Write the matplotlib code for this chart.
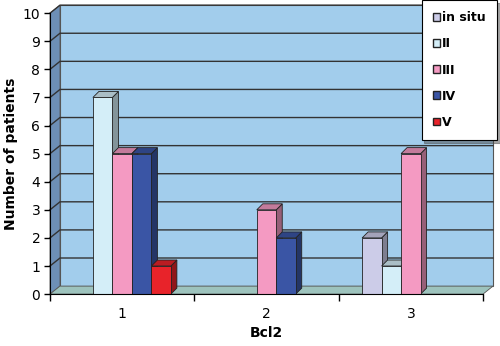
import numpy as np
import matplotlib
matplotlib.use("Agg")
import matplotlib.pyplot as plt
from matplotlib.patches import Polygon, Rectangle
from matplotlib.colors import to_rgb

# --- data ---
categories = ["1", "2", "3"]
series_names = ["in situ", "II", "III", "IV", "V"]
in_situ = [0, 0, 2]
stage_ii = [7, 0, 1]
stage_iii = [5, 3, 5]
stage_iv = [5, 2, 0]
stage_v = [1, 0, 0]
values = [in_situ, stage_ii, stage_iii, stage_iv, stage_v]
colors = ["#cccce8", "#d4eef8", "#f49ac2", "#3a55a5", "#e8232a"]
y_ticks = list(range(0, 11))

WALL = (10, 8)   # pixel depth of the back wall
BAR = (6, 6)     # pixel depth of bars
bar_w = 0.135

fig = plt.figure(figsize=(5.0, 3.46), dpi=100)
ax = fig.add_axes([0.10, 0.150, 0.866, 0.812])
ax.set_xlim(0.5, 3.5)
ax.set_ylim(0, 10)
ax.set_facecolor("none")


def pt(x, y, off=(0, 0)):
    px, py = ax.transData.transform((x, y))
    return ((px + off[0]) / fig.dpi, (py + off[1]) / fig.dpi)


def poly(points, color, z, lw=0.6, ec="#222222"):
    p = Polygon(points, closed=True, facecolor=color, edgecolor=ec, lw=lw,
                transform=fig.dpi_scale_trans, zorder=z, clip_on=False)
    ax.add_artist(p)


def shade(c, f):
    return tuple(v * f for v in to_rgb(c))


x0, x1 = 0.5, 3.5
# back wall
poly([pt(x0, 0, WALL), pt(x1, 0, WALL), pt(x1, 10, WALL), pt(x0, 10, WALL)],
     "#a2cdec", 0, lw=0.8, ec="#555555")
# left wall
poly([pt(x0, 0), pt(x0, 0, WALL), pt(x0, 10, WALL), pt(x0, 10)],
     "#6d8fb6", 0.5, lw=0.6, ec="#555555")
# gridlines on wall
for yv in y_ticks[1:]:
    a, b, c = pt(x0, yv), pt(x0, yv, WALL), pt(x1, yv, WALL)
    ax.add_line(plt.Line2D([a[0], b[0], c[0]], [a[1], b[1], c[1]],
                           transform=fig.dpi_scale_trans, color="#333333",
                           lw=1.0, zorder=1, clip_on=False))
# floor
poly([pt(x0, 0), pt(x1, 0), pt(x1, 0, WALL), pt(x0, 0, WALL)],
     "#9dc3bd", 1.5, lw=0.6, ec="#555555")

# bars with fake depth
x = np.arange(1, len(categories) + 1)
for i, (vals, col) in enumerate(zip(values, colors)):
    xs = x + (i - 2) * bar_w
    for xc, v in zip(xs, vals):
        if v <= 0:
            continue
        l, r = xc - bar_w / 2, xc + bar_w / 2
        z = 3 + i * 0.1
        poly([pt(r, 0), pt(r, 0, BAR), pt(r, v, BAR), pt(r, v)], shade(col, 0.62), z)
        poly([pt(l, v), pt(r, v), pt(r, v, BAR), pt(l, v, BAR)], shade(col, 0.8), z)
        ax.add_patch(Rectangle((l, 0), bar_w, v, facecolor=col, edgecolor="#222222",
                               lw=0.6, zorder=z + 0.05, clip_on=False))

# axes and ticks
for s in ["top", "right"]:
    ax.spines[s].set_visible(False)
ax.spines["left"].set_zorder(5)
ax.spines["bottom"].set_zorder(5)
ax.set_yticks(y_ticks)
ax.set_xticks(x)
ax.set_xticklabels(categories)
ax.set_xticks([0.5, 1.5, 2.5, 3.5], minor=True)
ax.tick_params(axis="x", which="major", length=0, pad=9, labelsize=10)
ax.tick_params(axis="x", which="minor", length=5, width=1)
ax.tick_params(axis="y", length=4, width=1, labelsize=10, pad=3)
ax.set_ylabel("Number of patients", fontsize=10, fontweight="bold", labelpad=3)
ax.set_xlabel("Bcl2", fontsize=10, fontweight="bold", labelpad=4)

# legend
handles = [Rectangle((0, 0), 1, 1, facecolor=c, edgecolor="#222222", lw=1.0)
           for c in colors]
leg = fig.legend(handles, series_names, loc="upper right",
                 bbox_to_anchor=(0.994, 1.0), frameon=True, fancybox=False,
                 shadow=True, prop={"weight": "bold", "size": 9},
                 handlelength=0.55, handleheight=0.55, handletextpad=0.2,
                 labelspacing=1.05, borderpad=0.9, borderaxespad=0.0)
leg.get_frame().set_edgecolor("black")
leg.get_frame().set_linewidth(0.8)
leg._legend_box.align = "left"
leg.set_zorder(10)

fig.savefig("out.png", dpi=100)
